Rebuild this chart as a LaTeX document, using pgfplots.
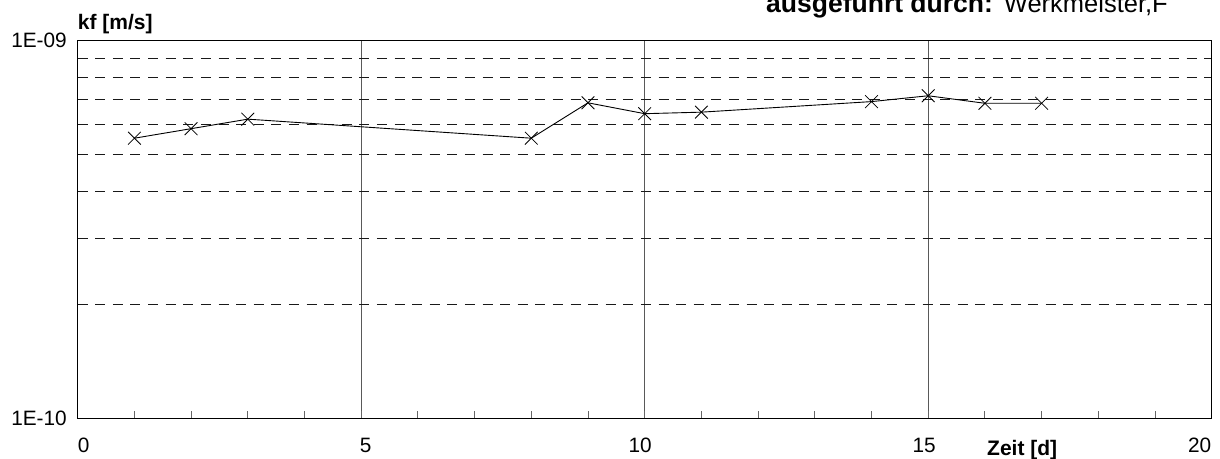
\documentclass[border=0pt]{standalone}
\usepackage{fontspec}
\setmainfont{Liberation Sans}
\usepackage{pgfplots}
\pgfplotsset{compat=1.18}
\begin{document}
\begin{tikzpicture}
\begin{axis}[
  name=ax,
  scale only axis,
  width=1134bp, height=377.6bp,
  xmin=0, xmax=20,
  ymode=log, ymin=1e-10, ymax=1e-9,
  xtick={0,5,10,15,20},
  xticklabels={\mbox{\hspace*{12bp}0},\mbox{\hspace*{9bp}5},\mbox{10\hspace*{9bp}},\mbox{15\hspace*{8bp}},\mbox{20\hspace*{24bp}}},
  minor x tick num=4,
  xtick pos=lower,
  tick align=inside,
  major tick length=7bp, minor tick length=7bp,
  xtick style={black!60, line width=0.9bp},
  ytick={1e-10,1e-9},
  yticklabels={\mbox{1E-10},\mbox{1E-09}},
  ytick style={draw=none},
  minor ytick={2e-10,3e-10,4e-10,5e-10,6e-10,7e-10,8e-10,9e-10},
  xmajorgrids, yminorgrids, ymajorgrids=false, xminorgrids=false,
  major grid style={black!65, solid, line width=1bp},
  minor grid style={black!90, line width=1bp, dash pattern=on 10bp off 7.6bp},
  axis line style={black, line width=1.2bp},
  ticklabel style={font=\fontsize{20.8bp}{24bp}\selectfont, inner sep=0pt},
  yticklabel style={anchor=east, xshift=-10.7bp},
  xticklabel style={anchor=north, yshift=-19.7bp},
]
\addplot[black, line width=0.9bp, mark=x, mark size=9bp, mark options={line width=0.8bp}] coordinates {
(1,5.52e-10) (2,5.85e-10) (3,6.2e-10) (8,5.52e-10) (9,6.85e-10) (10,6.41e-10) (11,6.47e-10) (14,6.9e-10) (15,7.15e-10) (16,6.83e-10) (17,6.83e-10)
};
\end{axis}
\node[anchor=base west, inner sep=0pt, font=\bfseries\fontsize{21bp}{24bp}\selectfont] at ([shift={(0bp,11.4bp)}]ax.north west) {kf [m/s]};
\node[anchor=base west, inner sep=0pt, font=\bfseries\fontsize{21bp}{24bp}\selectfont] at ([shift={(909.3bp,-36.7bp)}]ax.south west) {Zeit [d]};
\node[anchor=base west, inner sep=0pt, font=\bfseries\fontsize{26.5bp}{28bp}\selectfont] at ([shift={(688.3bp,27.7bp)}]ax.north west) {ausgeführt durch:};
\node[anchor=base east, inner sep=0pt, font=\fontsize{25.5bp}{28bp}\selectfont] at ([shift={(1090.3bp,27.7bp)}]ax.north west) {Werkmeister,F};
\pgfresetboundingbox
\useasboundingbox ([shift={(-77.7bp,-40.7bp)}]ax.south west) rectangle ([shift={(1142.3bp,418.3bp)}]ax.south west);
\end{tikzpicture}
\end{document}
